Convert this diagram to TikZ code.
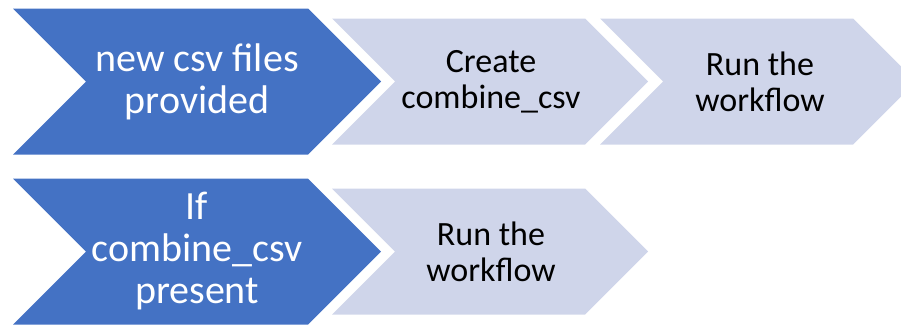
\documentclass[tikz,border=0pt]{standalone}
\usepackage{fontspec}
\setmainfont{Carlito}
\definecolor{stepblue}{RGB}{68, 114, 196}
\definecolor{steplight}{RGB}{207, 213, 234}

\begin{document}
\begin{tikzpicture}[x=0.75pt, y=-0.75pt,
    bluechev/.style={fill=stepblue},
    lightchev/.style={fill=steplight},
    bluetext/.style={align=center, text=white, font=\fontsize{30}{31.5}\selectfont},
    lighttext/.style={align=center, text=black, font=\fontsize{25.5}{27}\selectfont}]
      \useasboundingbox (0,0) rectangle (901,325);
      \clip (0,0) rectangle (901,325);

      % Chevrons, first row
      \fill[bluechev] (13,8.5) -- (308,8.5) -- (381,81.5) -- (308,154.5) -- (13,154.5) -- (86,81.5) -- cycle;
      \fill[lightchev] (332,18.5) -- (585,18.5) -- (648,81.5) -- (585,144.5) -- (332,144.5) -- (395,81.5) -- cycle;
      \fill[lightchev] (600,18.5) -- (853,18.5) -- (916,81.5) -- (853,144.5) -- (600,144.5) -- (663,81.5) -- cycle;

      % Chevrons, second row
      \fill[bluechev] (13,178.5) -- (308,178.5) -- (381,251.5) -- (308,324.5) -- (13,324.5) -- (86,251.5) -- cycle;
      \fill[lightchev] (332,188.5) -- (585,188.5) -- (648,251.5) -- (585,314.5) -- (332,314.5) -- (395,251.5) -- cycle;

      % Labels
      \node[bluetext] (newcsv) at (197,81.5) {new csv files\\provided};
      \node[lighttext] (create) at (491,81.5) {Create\\combine\_csv};
      \node[lighttext] (runfirst) at (760,81.5) {Run the\\workflow};
      \node[bluetext] (ifpresent) at (197,251.5) {If\\combine\_csv\\present};
      \node[lighttext] (runsecond) at (491,251.5) {Run the\\workflow};
\end{tikzpicture}
\end{document}
